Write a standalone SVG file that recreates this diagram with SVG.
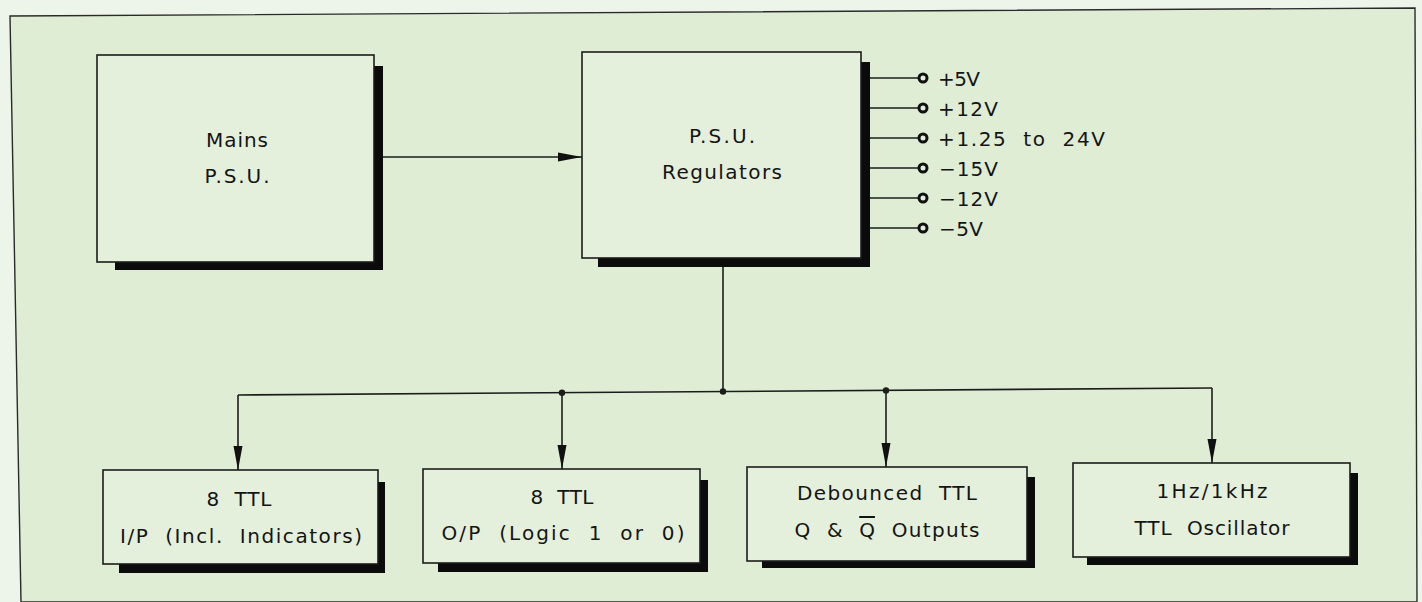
<svg xmlns="http://www.w3.org/2000/svg" width="1422" height="602" viewBox="0 0 1422 602">
<style>
.bx{fill:#e5f0dc;stroke:#1c1c1c;stroke-width:1.6}
.sh{fill:#0b0b0b}
.t{font-family:"DejaVu Sans","Liberation Sans",sans-serif;font-size:20px;fill:#141414;text-anchor:middle;white-space:pre}
.tl{font-family:"DejaVu Sans","Liberation Sans",sans-serif;font-size:20px;fill:#141414;text-anchor:start;white-space:pre}
.ln{fill:none;stroke:#1c1c1c;stroke-width:1.6}
.dot{fill:#1c1c1c}
.term{fill:#e2eeda;stroke:#111;stroke-width:3}
</style>
<defs>
<marker id="ah" markerUnits="userSpaceOnUse" markerWidth="26" markerHeight="12" refX="24" refY="6" orient="auto">
<path d="M0,1.5 L24,6 L0,10.5 z" fill="#111"/>
</marker>
</defs>
<rect x="0" y="0" width="1422" height="602" fill="#edf5ea"/>
<path d="M10,16 L1415,8 L1417,602 L21,602 z" fill="#dfedd5" stroke="#2a2a2a" stroke-width="1.4"/>

<g id="mains">
<rect class="sh" x="115" y="66" width="268" height="204"/>
<rect class="bx" x="97" y="55" width="277" height="207"/>
<text class="t" x="237" y="147" textLength="62">Mains</text>
<text class="t" x="237" y="183" textLength="65">P.S.U.</text>
</g>

<g id="regulators">
<rect class="sh" x="598" y="62" width="272" height="205"/>
<rect class="bx" x="582" y="52" width="279" height="206"/>
<text class="t" x="722" y="143" textLength="66">P.S.U.</text>
<text class="t" x="722" y="179" textLength="120">Regulators</text>
</g>

<g id="outputs">
<g class="ln">
<line x1="870" y1="78" x2="919" y2="78"/>
<line x1="870" y1="108" x2="919" y2="108"/>
<line x1="870" y1="138" x2="919" y2="138"/>
<line x1="870" y1="168" x2="919" y2="168"/>
<line x1="870" y1="198" x2="919" y2="198"/>
<line x1="870" y1="228" x2="919" y2="228"/>
</g>
<circle class="term" cx="923" cy="78" r="4"/>
<circle class="term" cx="923" cy="108" r="4"/>
<circle class="term" cx="923" cy="138" r="4"/>
<circle class="term" cx="923" cy="168" r="4"/>
<circle class="term" cx="923" cy="198" r="4"/>
<circle class="term" cx="923" cy="228" r="4"/>
<text class="tl" x="938" y="86" textLength="42">+5V</text>
<text class="tl" x="938" y="116" textLength="60">+12V</text>
<text class="tl" x="938" y="146" textLength="167">+1.25  to  24V</text>
<text class="tl" x="939" y="176" textLength="59">−15V</text>
<text class="tl" x="939" y="206" textLength="59">−12V</text>
<text class="tl" x="939" y="236" textLength="44">−5V</text>
</g>

<g id="ttl-ip">
<rect class="sh" x="119" y="482" width="266" height="91"/>
<rect class="bx" x="103" y="470" width="275" height="94"/>
<text class="t" x="239" y="506" textLength="65">8  TTL</text>
<text class="t" x="241" y="543" textLength="242">I/P  (Incl.  Indicators)</text>
</g>

<g id="ttl-op">
<rect class="sh" x="438" y="480" width="270" height="92"/>
<rect class="bx" x="423" y="469" width="277" height="94"/>
<text class="t" x="562" y="504" textLength="63">8  TTL</text>
<text class="t" x="563" y="540" textLength="243">O/P  (Logic  1  or  0)</text>
</g>

<g id="debounced">
<rect class="sh" x="762" y="477" width="273" height="91"/>
<rect class="bx" x="747" y="467" width="280" height="94"/>
<text class="t" x="887" y="500" textLength="180">Debounced  TTL</text>
<text class="t" x="887" y="537" textLength="185">Q  &amp;  <tspan style="text-decoration:overline">Q</tspan>  Outputs</text>
</g>

<g id="oscillator">
<rect class="sh" x="1087" y="473" width="271" height="92"/>
<rect class="bx" x="1073" y="463" width="277" height="94"/>
<text class="t" x="1212" y="498" textLength="111">1Hz/1kHz</text>
<text class="t" x="1212" y="535" textLength="155">TTL  Oscillator</text>
</g>

<g id="connectors">
<line class="ln" x1="383" y1="157" x2="582" y2="157" marker-end="url(#ah)"/>
<line class="ln" x1="723" y1="267" x2="723" y2="391.5"/>
<path class="ln" d="M238,395 L1212,388"/>
<line class="ln" x1="238" y1="395" x2="238" y2="470" marker-end="url(#ah)"/>
<line class="ln" x1="562" y1="392.7" x2="562" y2="469" marker-end="url(#ah)"/>
<line class="ln" x1="886" y1="390.4" x2="886" y2="467" marker-end="url(#ah)"/>
<line class="ln" x1="1212" y1="388" x2="1212" y2="463" marker-end="url(#ah)"/>
<circle class="dot" cx="562" cy="392.7" r="3.2"/>
<circle class="dot" cx="723" cy="391.5" r="3.2"/>
<circle class="dot" cx="886" cy="390.4" r="3.2"/>
</g>
</svg>
